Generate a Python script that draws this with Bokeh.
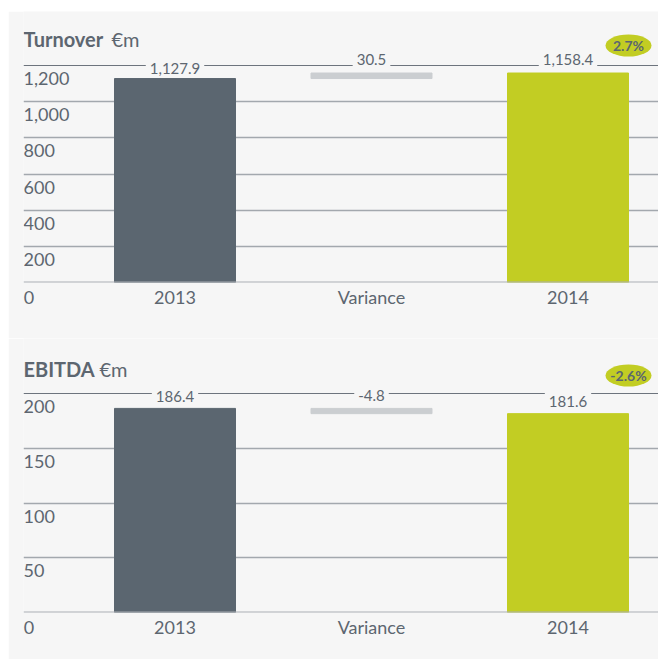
from bokeh.plotting import figure
from bokeh.models import Range1d, FixedTicker, LabelSet, ColumnDataSource, Spacer
from bokeh.layouts import column, row
from bokeh.core.properties import value
from bokeh.embed import file_html
from bokeh.resources import INLINE

# ---------------- data ----------------
categories = ["2013", "Variance", "2014"]
turnover = [1127.9, 1158.4]
turnover_variance = 30.5
turnover_change = "2.7%"
turnover_ticks = [0, 200, 400, 600, 800, 1000, 1200]
turnover_tick_labels = ["0", "200", "400", "600", "800", "1,000", "1,200"]

ebitda = [186.4, 181.6]
ebitda_variance = -4.8
ebitda_change = "-2.6%"
ebitda_ticks = [0, 50, 100, 150, 200]
ebitda_tick_labels = ["0", "50", "100", "150", "200"]

# ---------------- style ----------------
BG = "#f6f6f6"
DARK = "#5b6670"
LIME = "#c2cd23"
VARC = "#cbced1"
GRID = "#a3a8ae"
TOPLINE = "#6d747d"
AXISC = "#a9adb3"
TXT = "#5d6670"
FONT = "Lato"

W = 650
PX_PER_CAT = 196.5
X_START = -0.771
X_END = X_START + (W - 15) / PX_PER_CAT
BAR_W = 121 / PX_PER_CAT
ZERO_X = -0.743  # x position (category units) of the "0" label under the axis


def make_chart(title, title_gap, vals, variance, change, ticks, tick_labels,
               height, frame_h, border_bottom, px_per_unit, label_offsets,
               top_off):
    y_end = frame_h / px_per_unit
    p = figure(width=W, height=height, x_range=Range1d(X_START, X_END),
               y_range=Range1d(0, y_end), output_backend="svg",
               toolbar_location=None, y_axis_location=None,
               min_border_left=15, min_border_right=0, min_border_top=0,
               min_border_bottom=border_bottom)
    p.background_fill_color = BG
    p.border_fill_color = BG
    p.outline_line_color = None
    p.xgrid.visible = False
    p.ygrid.ticker = FixedTicker(ticks=ticks[1:-1])
    p.ygrid.grid_line_color = GRID
    p.ygrid.grid_line_width = 1.5

    # x axis with category labels (plus the "0" of the value scale)
    ax = p.xaxis[0]
    ax.ticker = FixedTicker(ticks=[ZERO_X, 0, 1, 2])
    overrides = {i: c for i, c in enumerate(categories)}
    overrides[ZERO_X] = tick_labels[0]
    ax.major_label_overrides = overrides
    ax.axis_line_color = None
    ax.major_tick_line_color = None
    ax.minor_tick_line_color = None
    ax.major_tick_out = 0
    ax.major_tick_in = 0
    ax.major_label_standoff = 3
    ax.major_label_text_font = FONT
    ax.major_label_text_font_size = "18px"
    ax.major_label_text_color = TXT

    # top line
    p.hspan(y=[ticks[-1]], line_color=TOPLINE, line_width=1)

    # bars
    p.vbar(x=[0, 2], top=vals, width=BAR_W, color=[DARK, LIME])
    p.vbar(x=[1], bottom=[min(vals)], top=[max(vals)], width=BAR_W, color=VARC)

    # zero line
    p.hspan(y=[0], line_color=AXISC, line_width=2)

    # value labels on top line
    labels = [f"{vals[0]:,.1f}", f"{variance:,.1f}", f"{vals[1]:,.1f}"]
    p.text(x=[0, 1, 2], y=[ticks[-1]] * 3, text=labels, y_offset=label_offsets,
           text_align="center", text_baseline="middle", text_font=value(FONT),
           text_font_size="15px", text_color=TXT,
           background_fill_color=BG, padding=4)

    # y tick labels (inside, below each line)
    src = ColumnDataSource(dict(x=[X_START] * (len(ticks) - 1), y=ticks[1:],
                                t=tick_labels[1:]))
    p.add_layout(LabelSet(x="x", y="y", text="t", source=src, y_offset=-13,
                          text_align="left", text_baseline="middle",
                          text_font=value(FONT), text_font_size="18px",
                          text_color=TXT))

    # title
    bold_title, unit = title
    p.text(x=[X_START], y=[y_end], text=[bold_title], y_offset=top_off,
           text_align="left", text_baseline="middle", text_font=value(FONT),
           text_font_size="20px", text_font_style="bold", text_color=TXT)
    p.text(x=[X_START], y=[y_end], text=[unit], y_offset=top_off,
           x_offset=title_gap,
           text_align="left", text_baseline="middle", text_font=value(FONT),
           text_font_size="20px", text_color=TXT)

    # change badge
    bx = 2 + 60.5 / PX_PER_CAT
    by = y_end - (top_off + 7) / px_per_unit
    p.ellipse(x=[bx], y=[by], width=46, height=22, width_units="screen",
              height_units="screen", fill_color=LIME, line_color=None)
    p.text(x=[bx], y=[by], text=[change], text_align="center",
           text_baseline="middle", text_font=value(FONT), text_font_size="14px",
           text_font_style="bold", text_color=DARK)
    return p


p1 = make_chart(("Turnover", "€m"), 88, turnover, turnover_variance,
                turnover_change, turnover_ticks, turnover_tick_labels,
                327, 271, 56, 217 / 1200, [3, -6, -6], 27)
p2 = make_chart(("EBITDA", "€m"), 76, ebitda, ebitda_variance, ebitda_change,
                ebitda_ticks, ebitda_tick_labels,
                321, 274, 47, 219 / 200, [3, 2, 8], 30)

layout = row(Spacer(width=8), column(Spacer(height=11), p1, p2, spacing=0),
             spacing=0)
open("out.html", "w").write(file_html(layout, INLINE))
